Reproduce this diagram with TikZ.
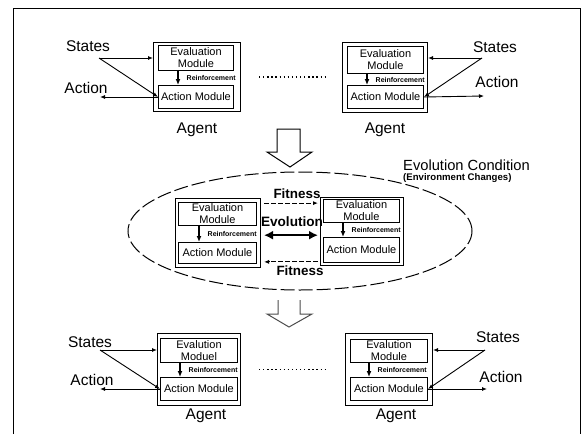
\documentclass[tikz,border=0pt]{standalone}
\usepackage{fontspec}
\setmainfont{Liberation Sans}
\usepackage{tikz}
\usetikzlibrary{arrows.meta,positioning}
\newcommand{\fsz}[1]{\fontsize{#1}{#1}\selectfont}

\begin{document}
\begin{tikzpicture}[
      x=1pt, y=-1pt,
      agent/.style={draw, line width=1pt, anchor=north west, inner sep=0pt},
      module/.style={draw, line width=1pt, anchor=north west, align=center,
                     inner sep=0pt, font=\fontsize{11}{12}\selectfont},
      bigtxt/.style={font=\fsz{15.5}, inner sep=0pt},
      lbl/.style={font=\bfseries\fsz{7}, inner sep=0pt},
      fitlbl/.style={font=\bfseries\fsz{13.4}, inner sep=0pt},
      arr/.style={-{Latex[length=5pt,width=4pt]}, line width=0.9pt},
      reinf/.style={-{Latex[length=6pt,width=5pt]}, line width=1.4pt},
      fitarr/.style={-{Latex[length=5pt,width=4pt]}, line width=1pt,
                     dash pattern=on 5pt off 2pt},
      evoarr/.style={{Latex[length=9pt,width=9pt]}-{Latex[length=9pt,width=9pt]},
                     line width=2.6pt},
      dotrow/.style={line width=1.3pt, dash pattern=on 1.3pt off 2.8pt},
      evoloop/.style={line width=1pt, dash pattern=on 14pt off 4pt},
      blockarr/.style={line width=1pt, line join=miter}
    ]
    \useasboundingbox (0,0) rectangle (584,434);
    \draw[line width=1pt] (13,434) |- (580,8) -- (580,434);

    % top left agent
    \node[agent, minimum width=87pt, minimum height=69pt] (agA) at (153,42) {};
    \node[module, minimum width=75pt, minimum height=25pt] (evA) at (158,45)
      {Evaluation\\Module};
    \node[module, minimum width=75pt, minimum height=23pt] (acA) at (158,85)
      {Action Module};
    \draw[reinf] ([xshift=20pt]evA.south west) -- ([xshift=20pt]evA.south west |- acA.north)
      node[lbl, midway, right=8pt] {Reinforcement};
    \node[bigtxt] (stA) at (88,46) {States};
    \node[bigtxt] (actA) at (86,88) {Action};
    \node[bigtxt, below=11pt of agA] (agtA) {Agent};
    \coordinate (forkA) at (99,58);
    \coordinate (outA) at (100,97);
    \draw[arr] (forkA) -- (forkA -| agA.west);
    \draw[arr] (forkA) -- (acA.west);
    \draw[arr] (acA.west) -- (outA);

    % top right agent
    \node[agent, minimum width=85pt, minimum height=70pt] (agB) at (342,42) {};
    \node[module, minimum width=76pt, minimum height=27pt] (evB) at (347,46)
      {Evaluation\\Module};
    \node[module, minimum width=76pt, minimum height=23pt] (acB) at (347,85)
      {Action Module};
    \draw[reinf] ([xshift=20pt]evB.south west) -- ([xshift=20pt]evB.south west |- acB.north)
      node[lbl, midway, right=8pt] {Reinforcement};
    \node[bigtxt] (stB) at (495,47) {States};
    \node[bigtxt] (actB) at (497,82) {Action};
    \node[bigtxt, below=10pt of agB] (agtB) {Agent};
    \coordinate (forkB) at (482,58);
    \coordinate (outB) at (484,96);
    \draw[arr] (forkB) -- (forkB -| agB.east);
    \draw[arr] (forkB) -- (acB.east);
    \draw[arr] (acB.east) -- (outB);

    \draw[dotrow] ([xshift=18pt]agA.east) -- ([xshift=-15pt]agA.east -| agB.west);

    % first block arrow
    \draw[blockarr] (277,129) -- (300,129) -- (300,152) -- (312,152) -- (290,167)
      -- (267,152) -- (277,152) -- cycle;

    % evolution condition
    \draw[evoloop] (300,231) ellipse [x radius=172pt, y radius=59pt];
    \node[font=\fsz{14.7}, inner sep=0pt, anchor=west] (cond) at (403,165)
      {Evolution Condition};
    \node[font=\bfseries\fsz{9.6}, inner sep=0pt, below=3pt of cond.south west,
          anchor=north west] (env) {(Environment Changes)};

    % middle left agent
    \node[agent, minimum width=85pt, minimum height=69pt] (agC) at (175,198) {};
    \node[module, minimum width=78pt, minimum height=23pt] (evC) at (178,202)
      {Evaluation\\Module};
    \node[module, minimum width=78pt, minimum height=21pt] (acC) at (178,242)
      {Action Module};
    \draw[reinf] ([xshift=21pt]evC.south west) -- ([xshift=21pt]evC.south west |- acC.north)
      node[lbl, midway, right=8pt] {Reinforcement};

    % middle right agent
    \node[agent, minimum width=83pt, minimum height=68pt] (agD) at (320,197) {};
    \node[module, minimum width=76pt, minimum height=23pt] (evD) at (323,199)
      {Evaluation\\Module};
    \node[module, minimum width=76pt, minimum height=25pt] (acD) at (323,237)
      {Action Module};
    \draw[reinf] ([xshift=20pt]evD.south west) -- ([xshift=20pt]evD.south west |- acD.north)
      node[lbl, midway, right=8pt] {Reinforcement};

    % fitness and evolution
    \node[fitlbl] (fitT) at (297,194) {Fitness};
    \node[font=\bfseries\fsz{13.6}, inner sep=0pt] (evo) at (292,222) {Evolution};
    \node[fitlbl] (fitB) at (300,271) {Fitness};
    \draw[fitarr, shorten <=3pt, shorten >=2pt]
      ([yshift=-4pt]fitT.south -| agC.east) -- ([yshift=-4pt]fitT.south -| agD.west);
    \draw[evoarr, shorten <=3pt, shorten >=2pt]
      ([yshift=-8pt]evo.south -| agC.east) -- ([yshift=-8pt]evo.south -| agD.west);
    \draw[fitarr, shorten <=2pt, shorten >=3pt]
      ([yshift=4pt]fitB.north -| agD.west) -- ([yshift=4pt]fitB.north -| agC.east);

    % second block arrow
    \draw[blockarr, black!70] (278,300) -- (278,314) -- (267,314) -- (289,327)
      -- (312,314) -- (300,314) -- (300,300);

    % bottom left agent
    \node[agent, minimum width=83pt, minimum height=72pt] (agE) at (157,333) {};
    \node[module, minimum width=77pt, minimum height=24pt] (evE) at (160,338)
      {Evalution\\Moduel};
    \node[module, minimum width=77pt, minimum height=23pt] (acE) at (160,377)
      {Action Module};
    \draw[reinf] ([xshift=20pt]evE.south west) -- ([xshift=20pt]evE.south west |- acE.north)
      node[lbl, midway, right=8pt] {Reinforcement};
    \node[bigtxt] (stE) at (90,342) {States};
    \node[bigtxt] (actE) at (92,380) {Action};
    \node[bigtxt, below=3pt of agE, xshift=7pt] (agtE) {Agent};
    \coordinate (forkE) at (100,350);
    \coordinate (outE) at (100,389);
    \draw[arr] (forkE) -- (forkE -| agE.west);
    \draw[arr] (forkE) -- (acE.west);
    \draw[arr] (acE.west) -- (outE);

    % bottom right agent
    \node[agent, minimum width=87pt, minimum height=72pt] (agF) at (345,333) {};
    \node[module, minimum width=77pt, minimum height=23pt] (evF) at (350,339)
      {Evalution\\Module};
    \node[module, minimum width=77pt, minimum height=23pt] (acF) at (350,377)
      {Action Module};
    \draw[reinf] ([xshift=19pt]evF.south west) -- ([xshift=19pt]evF.south west |- acF.north)
      node[lbl, midway, right=8pt] {Reinforcement};
    \node[bigtxt] (stF) at (498,337) {States};
    \node[bigtxt] (actF) at (501,377) {Action};
    \node[bigtxt, below=3pt of agF, xshift=7pt] (agtF) {Agent};
    \coordinate (forkF) at (485,350);
    \coordinate (outF) at (487,389);
    \draw[arr] (forkF) -- (forkF -| agF.east);
    \draw[arr] (forkF) -- (acF.east);
    \draw[arr] (acF.east) -- (outF);

    \draw[dotrow] ([xshift=18pt]agE.east) -- ([xshift=-18pt]agE.east -| agF.west);
  \end{tikzpicture}
\end{document}
